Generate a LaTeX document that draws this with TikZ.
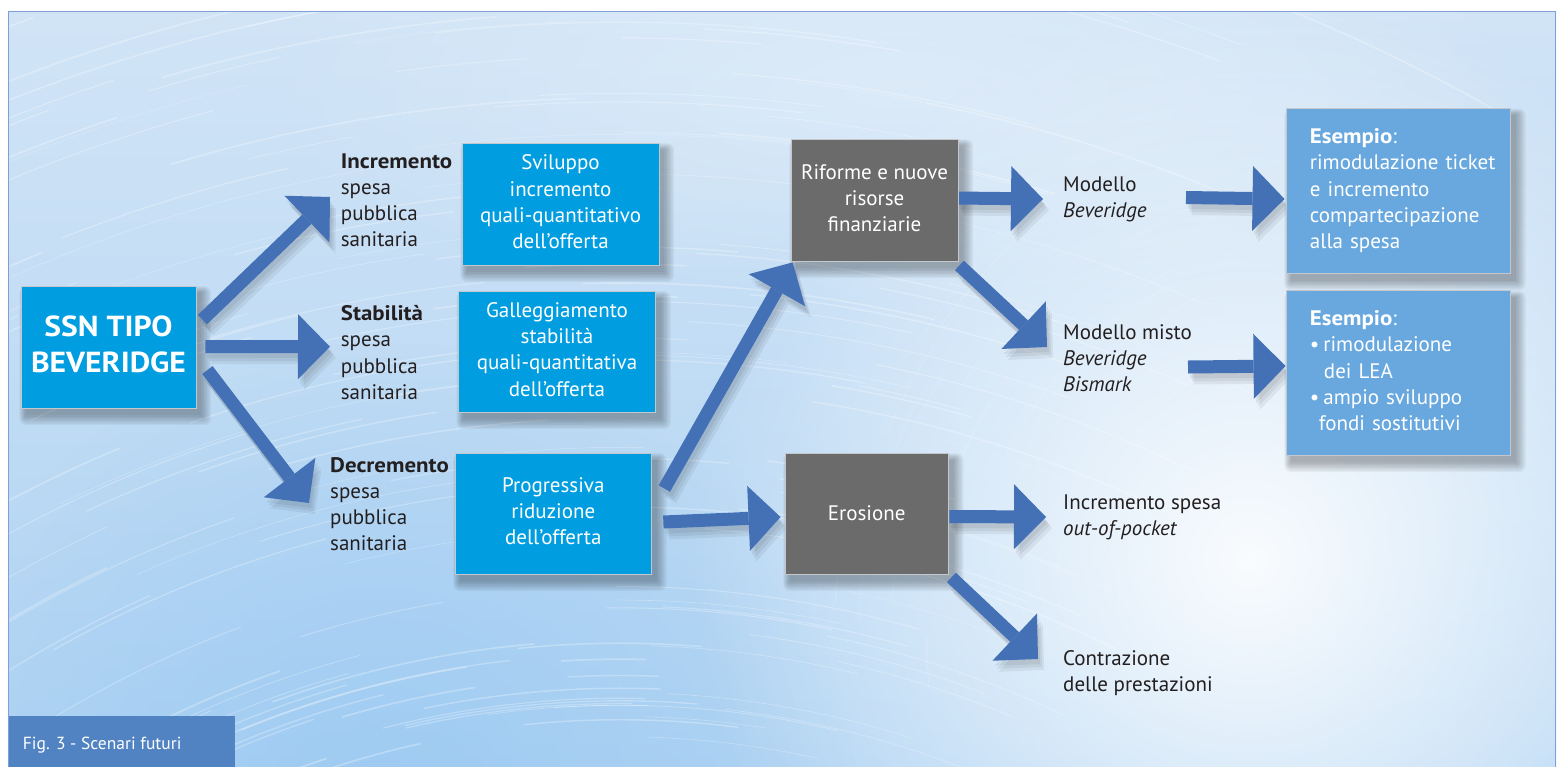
\documentclass[tikz,border=0pt]{standalone}
\usepackage{fontspec}
\setmainfont{PT Sans}[BoldFeatures={FakeStretch=1.09}]
\usetikzlibrary{arrows.meta,fadings,calc}
\definecolor{boxcyan}{HTML}{009EE0}
\definecolor{boxgray}{HTML}{6B6B6B}
\definecolor{boxlight}{HTML}{68A8DE}
\definecolor{arrowblue}{HTML}{4471B6}
\definecolor{txt}{HTML}{231F20}
\definecolor{framecol}{HTML}{7F9FD8}
\definecolor{figblue}{HTML}{5183C3}
\definecolor{bgtop}{HTML}{D1E4F6}
\definecolor{bgbot}{HTML}{AFD3F3}
\definecolor{bgdeep}{HTML}{98C8F2}
\definecolor{edgegray}{HTML}{C4C8CC}
\tikzfading[name=glowfade, inner color=transparent!0, outer color=transparent!100]
\pgfdeclarelayer{bglayer}
\pgfdeclarelayer{shadowlayer}
\pgfdeclarelayer{arrowlayer}
\pgfsetlayers{bglayer,shadowlayer,arrowlayer,main}
\newcommand{\ltab}[1]{\begin{tabular}[t]{@{}l@{}}#1\end{tabular}}
\newcommand{\ctab}[1]{\begin{tabular}[t]{@{}c@{}}#1\end{tabular}}
\newcommand{\boxshadow}[1]{%
  \begin{pgfonlayer}{shadowlayer}
    \foreach \k in {0,...,7}{
      \fill[black, opacity=0.04, rounded corners=\k pt]
        ([shift={(5-\k*0.9,7-\k*0.9)}]#1.north west) rectangle ([shift={(5+\k*1.4,7+\k*1.4)}]#1.south east);
    }
  \end{pgfonlayer}}
\newcommand{\fatarrow}[2]{%
  \begin{pgfonlayer}{shadowlayer}
    \foreach \dx/\dy in {2/5,4/8,6/11}{
      \draw[fatshadow, transform canvas={shift={(\dx,\dy)}}] #1 -- #2;
    }
  \end{pgfonlayer}
  \begin{pgfonlayer}{arrowlayer}
    \draw[fat] #1 -- #2;
  \end{pgfonlayer}}
\begin{document}
\begin{tikzpicture}[x=1pt,y=-1pt,
  fat/.style={draw=arrowblue, line width=13pt, -{Triangle[width=65pt,length=32pt,line width=0pt]}},
  fatshadow/.style={draw=black, opacity=0.06, line width=13pt, -{Triangle[width=65pt,length=32pt,line width=0pt]}},
  lbl/.style={inner sep=0pt, text=txt, font=\fontsize{21}{26.2}\selectfont, anchor=base west},
  bx/.style={draw=edgegray, line width=0.8pt, inner sep=0pt, text=white, font=\fontsize{21}{26.2}\selectfont}]
\useasboundingbox (0,0) rectangle (1565,766);

% background
\begin{pgfonlayer}{bglayer}
\fill[white] (0,0) rectangle (1565,766);
\begin{scope}
  \clip (8,11) rectangle (1556,766);
  \shade[top color=bgtop, bottom color=bgbot] (8,11) rectangle (1556,766);
  \fill[bgdeep, path fading=glowfade, fill opacity=0.75] (380,820) circle (480);
  \fill[white, path fading=glowfade, fill opacity=0.3] (900,90) ellipse (650 and 220);
  \fill[white, path fading=glowfade, fill opacity=0.92] (1250,560) circle (560);
  \pgfmathsetseed{3}
  \foreach \i in {1,...,220}{
    \pgfmathsetmacro\r{900+rnd*900}
    \pgfmathsetmacro\a{-150+rnd*75}
    \pgfmathsetmacro\b{\a+4+rnd*14}
    \pgfmathsetmacro\w{0.4+rnd*1.4}
    \draw[white, opacity=0.28, line width=\w pt] ([shift={(\a:\r)}]620,1650) arc[start angle=\a, end angle=\b, radius=\r];
  }
  \foreach \i in {1,...,40}{
    \pgfmathsetmacro\r{200+rnd*350}
    \pgfmathsetmacro\a{170+rnd*70}
    \pgfmathsetmacro\b{\a+5+rnd*12}
    \pgfmathsetmacro\w{0.4+rnd*1.0}
    \draw[white, opacity=0.14, line width=\w pt] ([shift={(\a:\r)}]1380,640) arc[start angle=\a, end angle=\b, radius=\r];
  }
\end{scope}
\end{pgfonlayer}

% boxes
\node[bx, fill=boxcyan, minimum width=175pt, minimum height=122pt, font=\bfseries\fontsize{29}{36}\selectfont] (ssn) at (108.5,347) {\ctab{SSN TIPO\\BEVERIDGE}};
\node[bx, fill=boxcyan, minimum width=197pt, minimum height=122pt] (svil) at (560.5,204) {\ctab{Sviluppo\\incremento\\quali-quantitativo\\dell’offerta}};
\node[bx, fill=boxcyan, minimum width=197.5pt, minimum height=121pt] (gall) at (557,351.5) {\ctab{Galleggiamento\\stabilità\\quali-quantitativa\\dell’offerta}};
\node[bx, fill=boxcyan, minimum width=196.7pt, minimum height=121pt] (prog) at (553.3,513.5) {\ctab{Progressiva\\riduzione\\dell’offerta}};
\node[bx, fill=boxgray, minimum width=167pt, minimum height=122pt] (rif) at (874.5,200) {\ctab{Riforme e nuove\\risorse\\finanziarie}};
\node[bx, fill=boxgray, minimum width=163.5pt, minimum height=121pt] (eros) at (866.7,513.5) {Erosione};
\node[bx, fill=boxlight, minimum width=224.7pt, minimum height=165pt, text width=176.7pt, inner xsep=24pt, align=left] (es1) at (1398.3,190.8) {\ltab{\textbf{Esempio}:\\rimodulazione ticket\\e incremento\\compartecipazione\\alla spesa}};
\node[bx, fill=boxlight, minimum width=224.7pt, minimum height=164.3pt, text width=176.7pt, inner xsep=24pt, align=left] (es2) at (1398.3,372.8) {\ltab{\textbf{Esempio}:\\•\hspace{4pt}rimodulazione\\\hspace*{14pt}dei LEA\\•\hspace{4pt}ampio sviluppo\\\hspace*{9pt}fondi sostitutivi}};

% labels
\node[lbl] (inc) at (340.7,168.3) {\ltab{\textbf{Incremento}\\spesa\\pubblica\\sanitaria}};
\node[lbl] (stab) at (340.7,320.7) {\ltab{\textbf{Stabilità}\\spesa\\pubblica\\sanitaria}};
\node[lbl] (dec) at (330,472.3) {\ltab{\textbf{Decremento}\\spesa\\pubblica\\sanitaria}};
\node[lbl] (mod) at (1063,191) {\ltab{Modello\\\textit{Beveridge}}};
\node[lbl] (misto) at (1063,339.3) {\ltab{Modello misto\\\textit{Beveridge}\\\textit{Bismark}}};
\node[lbl] (ooc) at (1063,509) {\ltab{Incremento spesa\\\textit{out-of-pocket}}};
\node[lbl] (contr) at (1063,665.7) {\ltab{Contrazione\\delle prestazioni}};

% shadows
\boxshadow{ssn}\boxshadow{svil}\boxshadow{gall}\boxshadow{prog}
\boxshadow{rif}\boxshadow{eros}\boxshadow{es1}\boxshadow{es2}

% arrows
\fatarrow{([shift={(6,34)}]ssn.north east)}{([shift={(-10.7,28.7)}]inc.base west)}
\fatarrow{([shift={(9,-0.5)}]ssn.east)}{([shift={(-10.7,26)}]stab.base west)}
\fatarrow{([shift={(11,23)}]ssn.east)}{([shift={(-21,30.7)}]dec.base west)}
\fatarrow{([shift={(12.3,36)}]prog.north east)}{([shift={(2,1)}]rif.south west)}
\fatarrow{([shift={(11.3,8.5)}]prog.east)}{([shift={(-4,3.5)}]eros.west)}
\fatarrow{([shift={(-1,-2)}]rif.east)}{([shift={(-20,8)}]mod.base west)}
\fatarrow{([shift={(1,4)}]rif.south east)}{([shift={(-16,7.7)}]misto.base west)}
\fatarrow{([shift={(123,6.5)}]mod.base west)}{([shift={(-1,8.2)}]es1.west)}
\fatarrow{([shift={(125,27.7)}]misto.base west)}{([shift={(0,-6.8)}]es2.west)}
\fatarrow{([shift={(0.5,3)}]eros.east)}{([shift={(-17,8)}]ooc.base west)}
\fatarrow{([shift={(2.5,3)}]eros.south east)}{([shift={(-25,-6.7)}]contr.base west)}

% figure label
\node[fill=figblue, minimum width=227pt, minimum height=52pt, anchor=north west, inner sep=0pt] (figbox) at (8,716) {};
\node[anchor=base west, inner sep=0pt, text=white, font=\fontsize{17.5}{20}\selectfont] (figtxt) at (22.7,749) {Fig. 3 - Scenari futuri};

% frame
\draw[framecol, line width=1.3pt] (8.5,800) -- (8.5,11.5) -- (1555.5,11.5) -- (1555.5,800);
\end{tikzpicture}
\end{document}
